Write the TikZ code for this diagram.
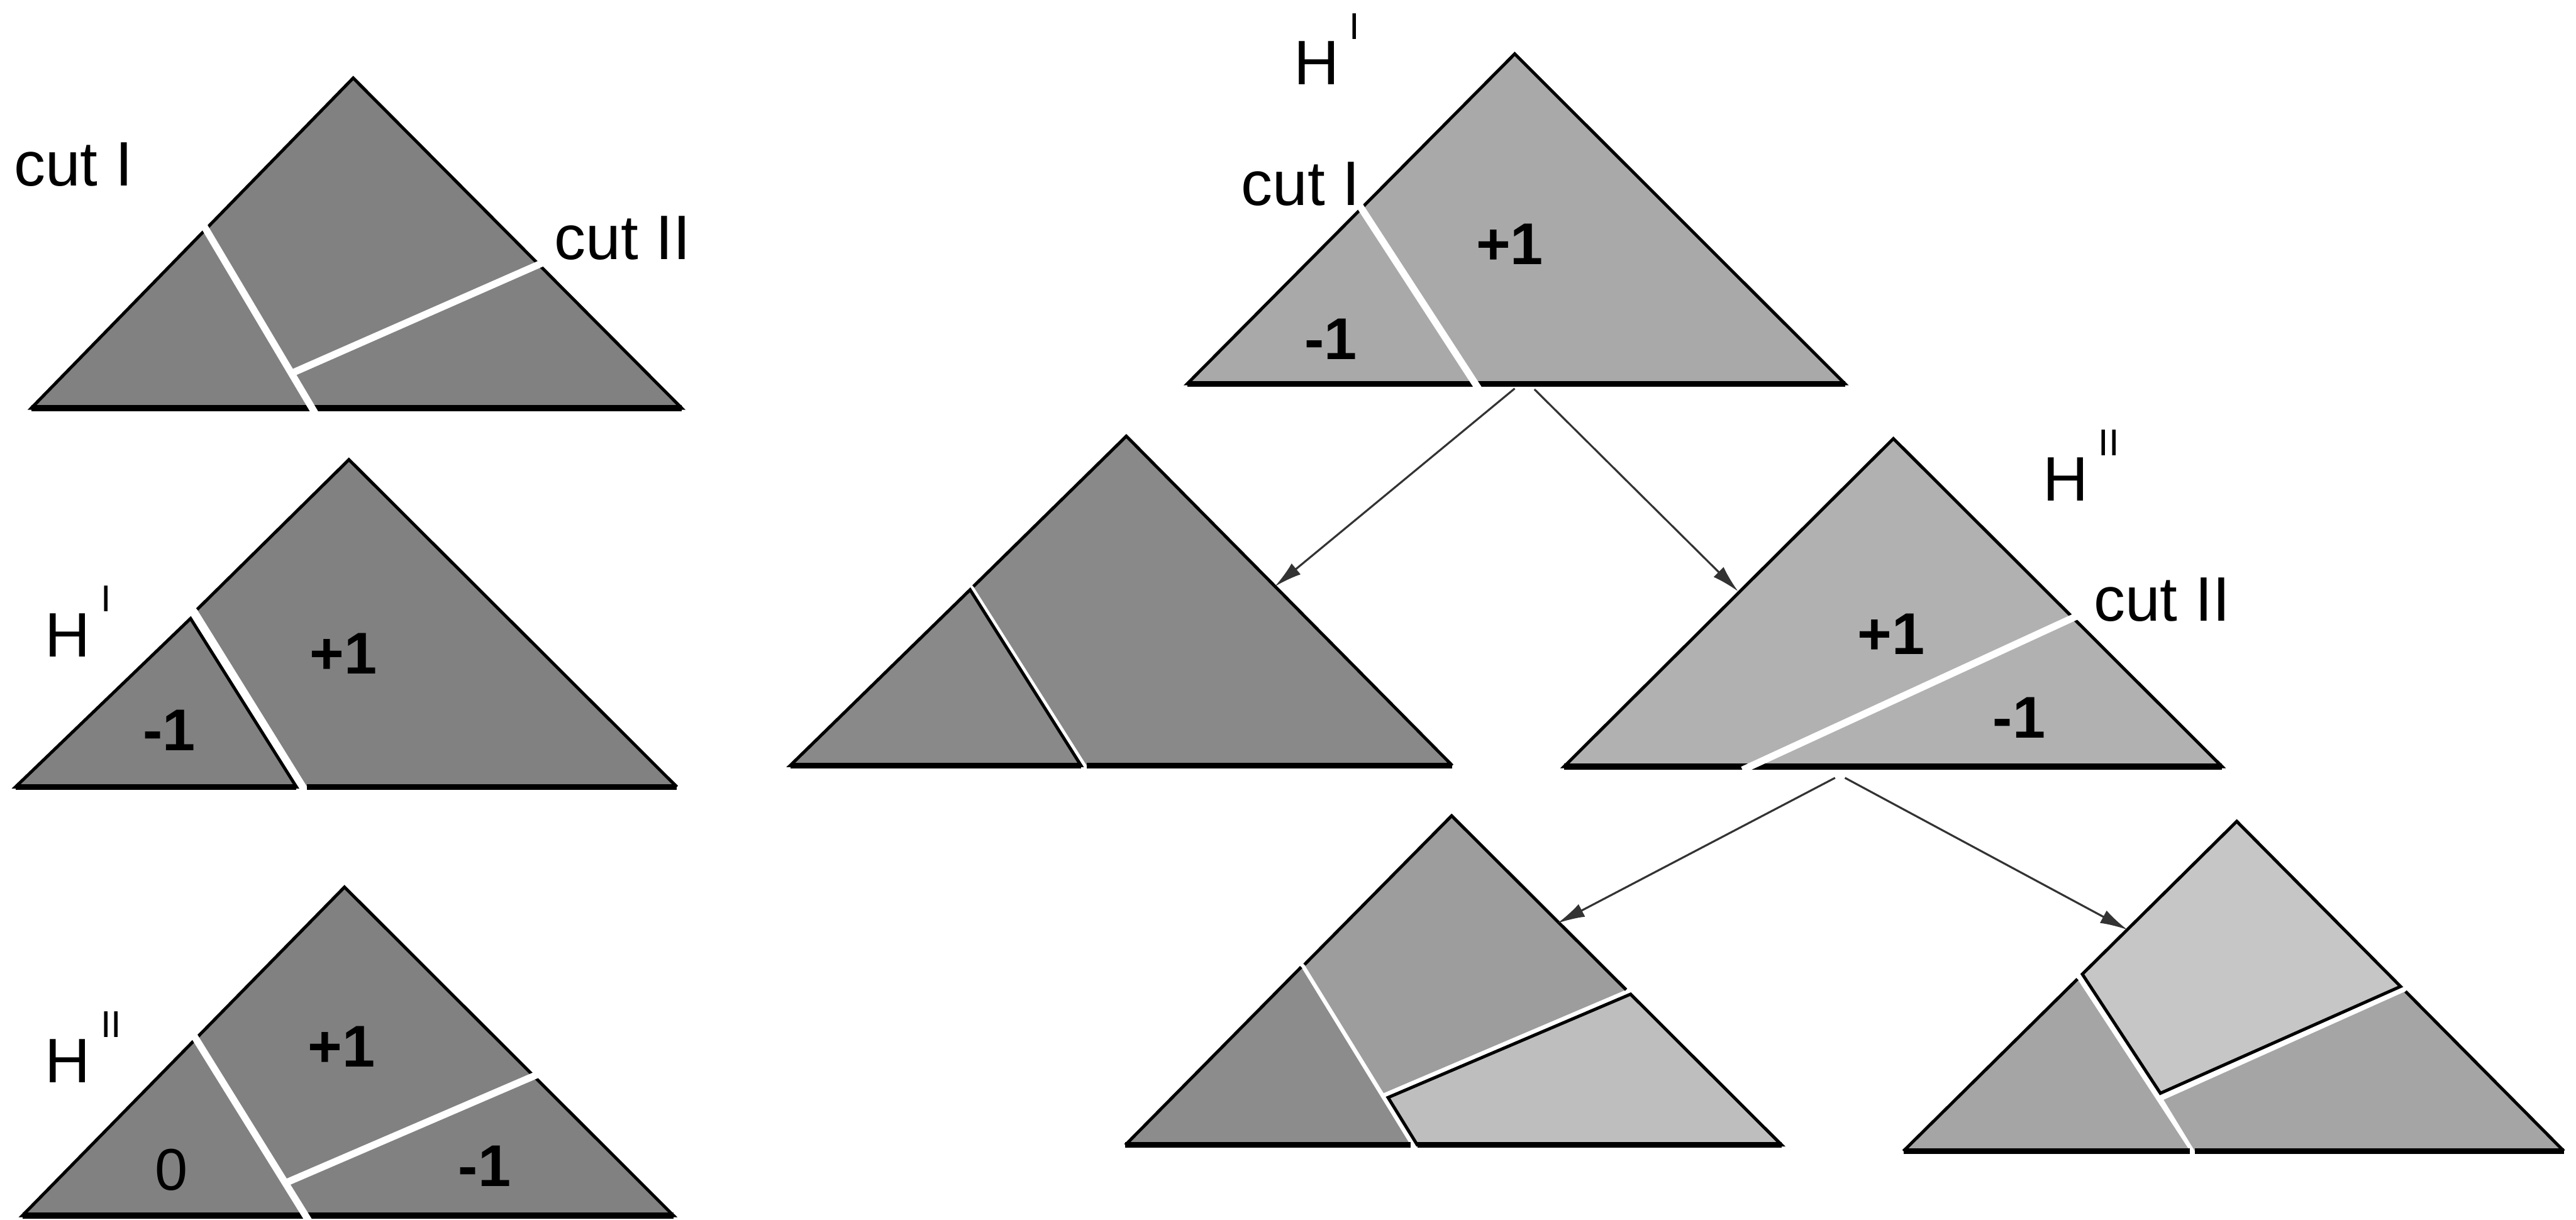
\documentclass[tikz,border=0pt]{standalone}
\usepackage{fontspec}
\setmainfont{Liberation Sans}
\usetikzlibrary{arrows.meta}
\definecolor{shadeA}{HTML}{818181}
\definecolor{shadeB}{HTML}{A9A9A9}
\definecolor{shadeC}{HTML}{898989}
\definecolor{shadeD}{HTML}{B1B1B1}
\definecolor{shadeE}{HTML}{8C8C8C}
\definecolor{shadeF}{HTML}{9D9D9D}
\definecolor{shadeG}{HTML}{BEBEBE}
\definecolor{shadeH}{HTML}{A5A5A5}
\definecolor{shadeI}{HTML}{C6C6C6}
\newcommand{\hlab}[1]{H\hspace{2.6pt}\raisebox{0.72em}{\fontsize{9.5}{9.5}\selectfont #1}}

\begin{document}
\begin{tikzpicture}[x=0.147mm, y=-0.147mm,
  txt/.style={font=\fontsize{16}{19}\selectfont, inner sep=0pt, anchor=base west},
  num/.style={font=\fontsize{15}{18}\selectfont\bfseries, inner sep=0pt},
  rim/.style={line width=0.8pt},
  floor/.style={line width=1.5pt},
  cutline/.style={white, line width=1.8pt},
  link/.style={-{Latex[length=7pt, width=3.6pt]}, line width=0.5pt, black!80}]
  \fill[white] (0,0) rectangle (1568,742.3);
  % left column: both cuts
  \filldraw[fill=shadeA, rim] (19,248.5) -- (215,47.5) -- (415,248.5) -- cycle;
  \draw[floor] (19,248.5) -- (415,248.5);
  \draw[cutline, shorten <=-2pt, shorten >=-2pt] (125,139) -- (190,248.5);
  \draw[cutline, shorten <=-2pt] (328,161) -- (178,227);
  \node[txt] (cutIa) at (8,113) {cut I};
  \node[txt] (cutIIa) at (337,158) {cut II};
  % left column: H^I
  \fill[shadeA] (120,371) -- (212.4,279.8) -- (412,479) -- (187,479) -- cycle;
  \draw[rim] (120,371) -- (212.4,279.8) -- (412,479);
  \draw[floor] (412,479) -- (187,479);
  \filldraw[fill=shadeA, rim] (9.5,479) -- (116,376.5) -- (180.4,479) -- cycle;
  \draw[floor] (9.5,479) -- (180.4,479);
  \node[txt] (hIa) at (27,400) {\hlab{I}};
  \node[num] (plusIa) at (209,398) {+1};
  \node[num] (minusIa) at (103,444.5) {-1};
  % left column: H^II
  \filldraw[fill=shadeA, rim] (13.6,740) -- (209.7,540) -- (410,740) -- cycle;
  \draw[floor] (13.6,740) -- (410,740);
  \draw[cutline, shorten <=-2pt, shorten >=-2pt] (119,632) -- (186,740);
  \draw[cutline, shorten <=-2pt] (325,655) -- (174,720);
  \node[txt] (hIIa) at (27,659) {\hlab{II}};
  \node[num] (plusIIa) at (208,637) {+1};
  \node[num, font=\fontsize{15}{18}\selectfont] (zeroIIa) at (104.5,712) {0};
  \node[num] (minusIIa) at (295,710) {-1};
  % tree root H^I
  \filldraw[fill=shadeB, rim] (722.7,233.6) -- (922,32.8) -- (1123,233.6) -- cycle;
  \draw[floor] (722.7,233.6) -- (1123,233.6);
  \draw[cutline, shorten <=-2pt, shorten >=-2pt] (828.5,126.6) -- (898,233.6);
  \node[txt] (hIroot) at (787,51.5) {\hlab{I}};
  \node[txt] (cutIroot) at (755,125) {cut I};
  \node[num] (plusroot) at (919,148.5) {+1};
  \node[num] (minusroot) at (810,206.5) {-1};
  % left child
  \fill[shadeC] (592.5,357) -- (685.6,265.5) -- (884,466) -- (661.5,466) -- cycle;
  \draw[rim] (592.5,357) -- (685.6,265.5) -- (884,466);
  \draw[floor] (884,466) -- (661.5,466);
  \filldraw[fill=shadeC, rim] (481,466) -- (590.5,359) -- (658,466) -- cycle;
  \draw[floor] (481,466) -- (658,466);
  % right child H^II
  \filldraw[fill=shadeD, rim] (952,466.7) -- (1152.5,267) -- (1352.6,466.7) -- cycle;
  \draw[floor] (952,466.7) -- (1352.6,466.7);
  \draw[cutline, shorten <=-2pt, shorten >=-2pt] (1262,376) -- (1065,466.7);
  \node[txt] (hIIroot) at (1243,305) {\hlab{II}};
  \node[txt] (cutIIroot) at (1274,378) {cut II};
  \node[num] (plusIIroot) at (1151,386) {+1};
  \node[num] (minusIIroot) at (1229,437) {-1};
  % grandchild, lower piece moved
  \fill[shadeE] (685,697) -- (792,588.7) -- (858.5,697) -- cycle;
  \draw[rim] (792,588.7) -- (685,697);
  \draw[floor] (685,697) -- (858.5,697);
  \fill[shadeF] (794,587.2) -- (883.6,496.6) -- (989.8,602.5) -- (842.2,665.4) -- cycle;
  \draw[rim] (794,587.2) -- (883.6,496.6) -- (989.8,602.5);
  \filldraw[fill=shadeG, rim] (844.9,668.1) -- (992.5,605.2) -- (1084.5,697) -- (862.7,697) -- cycle;
  \draw[floor] (862.7,697) -- (1084.5,697);
  % grandchild, upper piece moved
  \fill[shadeH] (1158.6,700.7) -- (1264.5,596) -- (1333,700.7) -- cycle;
  \draw[rim] (1264.5,596) -- (1158.6,700.7);
  \draw[floor] (1158.6,700.7) -- (1333,700.7);
  \filldraw[fill=shadeI, rim] (1267.5,593) -- (1361.5,500) -- (1461.2,600.5) -- (1315,665.5) -- cycle;
  \fill[shadeH] (1317,669.5) -- (1464.2,603.5) -- (1560.6,700.7) -- (1336,700.7) -- cycle;
  \draw[rim] (1464.2,603.5) -- (1560.6,700.7);
  \draw[floor] (1560.6,700.7) -- (1336,700.7);
  % arrows
  \coordinate (rootout1) at (922,236.5);
  \coordinate (rootout2) at (934,237);
  \coordinate (leftin) at (776,357);
  \coordinate (rightin) at (1058,360);
  \coordinate (midout1) at (1117,473.5);
  \coordinate (midout2) at (1123,473.5);
  \coordinate (gin) at (948,562);
  \coordinate (hin) at (1295,566);
  \draw[link] (rootout1) -- (leftin);
  \draw[link] (rootout2) -- (rightin);
  \draw[link] (midout1) -- (gin);
  \draw[link] (midout2) -- (hin);
\end{tikzpicture}
\end{document}
